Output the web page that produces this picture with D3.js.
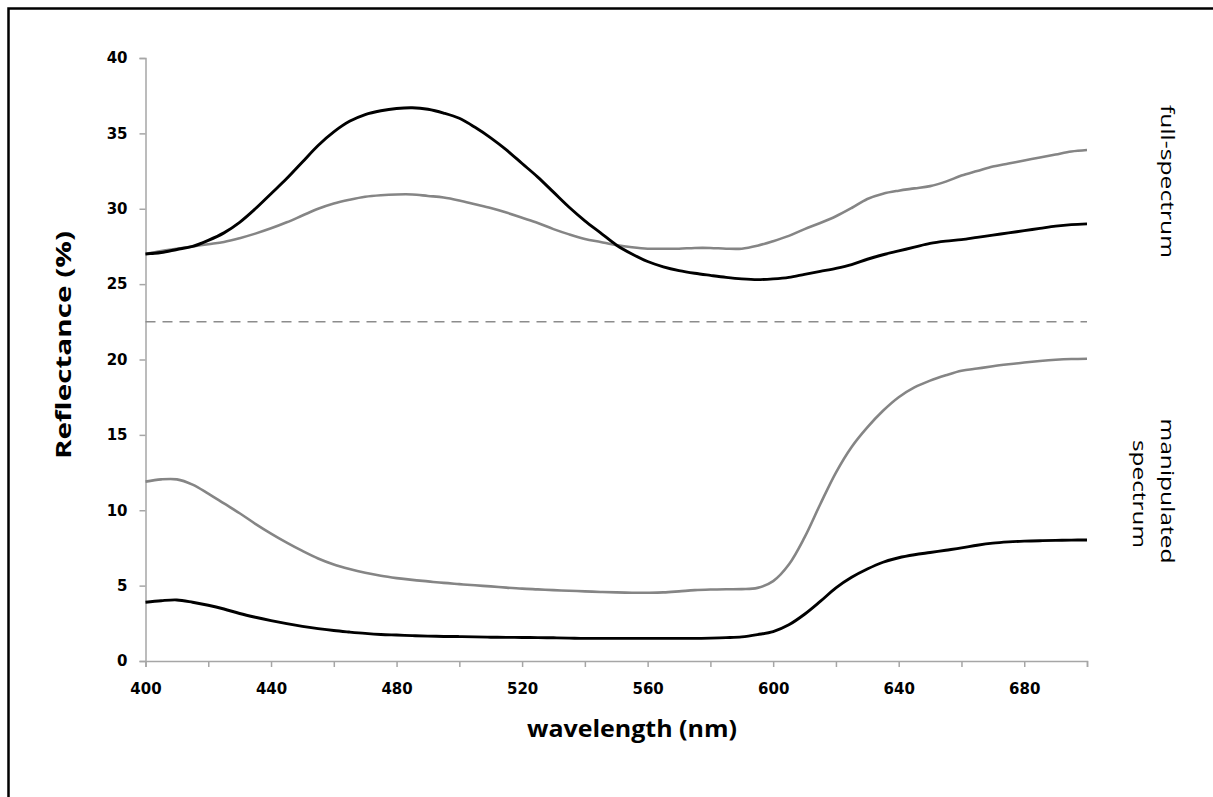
<!DOCTYPE html>
<html>
<head>
<meta charset="utf-8">
<script src="https://cdn.jsdelivr.net/npm/d3@7"></script>
<style>
  html, body { margin: 0; padding: 0; background: #fff; }
  svg { display: block; }
</style>
</head>
<body>
<svg id="chart" width="1213" height="797"></svg>
<script>
// Wavelength grid (nm), sampled every 5 nm
const wavelength = d3.range(400, 701, 5);

// Full-spectrum condition
const fullBlack = [
  27.0, 27.1, 27.3, 27.5, 27.9, 28.4, 29.1, 30.0, 31.0, 32.0,
  33.1, 34.2, 35.1, 35.8, 36.25, 36.5, 36.65, 36.7, 36.6, 36.35,
  36.0, 35.4, 34.7, 33.9, 33.0, 32.1, 31.1, 30.1, 29.2, 28.4,
  27.6, 27.0, 26.5, 26.15, 25.9, 25.72, 25.58, 25.45, 25.35, 25.3,
  25.35, 25.45, 25.65, 25.85, 26.05, 26.3, 26.65, 26.95, 27.2, 27.45,
  27.7, 27.85, 27.95, 28.1, 28.25, 28.4, 28.55, 28.7, 28.85, 28.95,
  29.0
];
const fullGray = [
  27.0, 27.2, 27.35, 27.5, 27.65, 27.8, 28.05, 28.35, 28.7, 29.1,
  29.55, 30.0, 30.35, 30.6, 30.8, 30.9, 30.95, 30.95, 30.85, 30.75,
  30.55, 30.3, 30.05, 29.75, 29.4, 29.05, 28.65, 28.3, 28.0, 27.8,
  27.6, 27.45, 27.35, 27.35, 27.35, 27.4, 27.4, 27.35, 27.35, 27.55,
  27.85, 28.2, 28.65, 29.05, 29.5, 30.05, 30.65, 31.0, 31.2, 31.35,
  31.5, 31.8, 32.2, 32.5, 32.8, 33.0, 33.2, 33.4, 33.6, 33.8,
  33.9
];

// Manipulated-spectrum condition
const manipGray = [
  11.9, 12.05, 12.05, 11.7, 11.1, 10.45, 9.8, 9.1, 8.45, 7.85,
  7.3, 6.8, 6.4, 6.1, 5.85, 5.65, 5.5, 5.38, 5.28, 5.18,
  5.1, 5.02, 4.95, 4.87, 4.8, 4.75, 4.7, 4.66, 4.62, 4.58,
  4.55, 4.53, 4.53, 4.55, 4.62, 4.7, 4.74, 4.76, 4.77, 4.85,
  5.3, 6.4, 8.2, 10.4, 12.5, 14.2, 15.5, 16.6, 17.5, 18.15,
  18.6, 18.95, 19.25, 19.4, 19.55, 19.68, 19.8, 19.9, 19.98, 20.03,
  20.05
];
const manipBlack = [
  3.9, 4.0, 4.05, 3.9, 3.7, 3.45, 3.15, 2.9, 2.68, 2.48,
  2.3, 2.15, 2.02, 1.92, 1.83, 1.76, 1.72, 1.68, 1.65, 1.63,
  1.62, 1.6, 1.58, 1.57, 1.56, 1.55, 1.54, 1.52, 1.5, 1.5,
  1.5, 1.5, 1.5, 1.5, 1.5, 1.5, 1.52, 1.55, 1.6, 1.75,
  1.95, 2.4, 3.1, 3.95, 4.85, 5.55, 6.1, 6.55, 6.85, 7.05,
  7.2, 7.35, 7.5, 7.68, 7.82, 7.9, 7.95, 7.98, 8.0, 8.02,
  8.03
];

// Axis ticks and the divider between the two panels
const xTicks = d3.range(400, 701, 20);
const xLabelTicks = [400, 440, 480, 520, 560, 600, 640, 680];
const yTicks = [0, 5, 10, 15, 20, 25, 30, 35, 40];
const dividerValue = 22.5;

const svg = d3.select("#chart");
const axisColor = "#a6a6a6";
const tickFont = "'DejaVu Sans', Verdana, sans-serif";
const titleFont = "'Open Sans', 'Noto Sans', sans-serif";

// outer frame (extends past the canvas on right and bottom)
svg.append("rect")
  .attr("x", 8.5).attr("y", 8.5)
  .attr("width", 1240).attr("height", 820)
  .attr("fill", "none").attr("stroke", "#000").attr("stroke-width", 2.5);

const x = d3.scaleLinear().domain([400, 700]).range([145.5, 1087]);
const y = d3.scaleLinear().domain([0, 40]).range([661, 58]);

// y axis
const yAxis = svg.append("g")
  .attr("transform", `translate(${x(400)},0)`)
  .call(d3.axisLeft(y).tickValues(yTicks).tickSize(6).tickPadding(12).tickFormat(d3.format("d")));
yAxis.select(".domain").attr("stroke", axisColor).attr("stroke-width", 1.5);
yAxis.selectAll(".tick line").attr("stroke", axisColor).attr("stroke-width", 1.5);
yAxis.selectAll(".tick text")
  .attr("font-family", tickFont).attr("font-weight", "bold")
  .attr("font-size", 15).attr("fill", "#000");

// x axis
const xAxis = svg.append("g")
  .attr("transform", `translate(0,${y(0)})`)
  .call(d3.axisBottom(x).tickValues(xTicks).tickSize(6).tickPadding(16)
    .tickFormat(d => xLabelTicks.includes(d) ? d : ""));
xAxis.select(".domain").attr("stroke", axisColor).attr("stroke-width", 1.5);
xAxis.selectAll(".tick line").attr("stroke", axisColor).attr("stroke-width", 1.5);
xAxis.selectAll(".tick text")
  .attr("font-family", tickFont).attr("font-weight", "bold")
  .attr("font-size", 15).attr("fill", "#000");

// dashed divider between the two conditions
svg.append("line")
  .attr("x1", x(400)).attr("x2", x(700))
  .attr("y1", y(dividerValue)).attr("y2", y(dividerValue))
  .attr("stroke", "#8c8c8c").attr("stroke-width", 1.5)
  .attr("stroke-dasharray", "10,7");

// spectra
const line = d3.line()
  .x((d, i) => x(wavelength[i]))
  .y(d => y(d))
  .curve(d3.curveCatmullRom.alpha(0.5));

const series = [
  { values: fullGray, color: "#858585", width: 2.6 },
  { values: fullBlack, color: "#000", width: 2.9 },
  { values: manipGray, color: "#858585", width: 2.6 },
  { values: manipBlack, color: "#000", width: 2.9 }
];
svg.append("g").selectAll("path").data(series).join("path")
  .attr("d", d => line(d.values))
  .attr("fill", "none")
  .attr("stroke", d => d.color)
  .attr("stroke-width", d => d.width)
  .attr("stroke-linejoin", "round");

// axis titles
svg.append("text")
  .attr("transform", "translate(71,345) rotate(-90)")
  .attr("text-anchor", "middle")
  .attr("font-family", titleFont).attr("font-weight", "bold")
  .attr("font-size", 22)
  .attr("textLength", 228).attr("lengthAdjust", "spacingAndGlyphs")
  .text("Reflectance (%)");

svg.append("text")
  .attr("x", 632).attr("y", 737)
  .attr("text-anchor", "middle")
  .attr("font-family", titleFont).attr("font-weight", "bold")
  .attr("font-size", 24)
  .attr("textLength", 210).attr("lengthAdjust", "spacingAndGlyphs")
  .text("wavelength (nm)");

// condition labels on the right
svg.append("text")
  .attr("transform", "translate(1161,181.5) rotate(90)")
  .attr("text-anchor", "middle")
  .attr("font-family", titleFont)
  .attr("font-size", 19)
  .attr("textLength", 153).attr("lengthAdjust", "spacingAndGlyphs")
  .text("full-spectrum");

svg.append("text")
  .attr("transform", "translate(1161,491) rotate(90)")
  .attr("text-anchor", "middle")
  .attr("font-family", titleFont)
  .attr("font-size", 19)
  .attr("textLength", 145).attr("lengthAdjust", "spacingAndGlyphs")
  .text("manipulated");

svg.append("text")
  .attr("transform", "translate(1133,494) rotate(90)")
  .attr("text-anchor", "middle")
  .attr("font-family", titleFont)
  .attr("font-size", 19)
  .attr("textLength", 108).attr("lengthAdjust", "spacingAndGlyphs")
  .text("spectrum");
</script>
</body>
</html>
